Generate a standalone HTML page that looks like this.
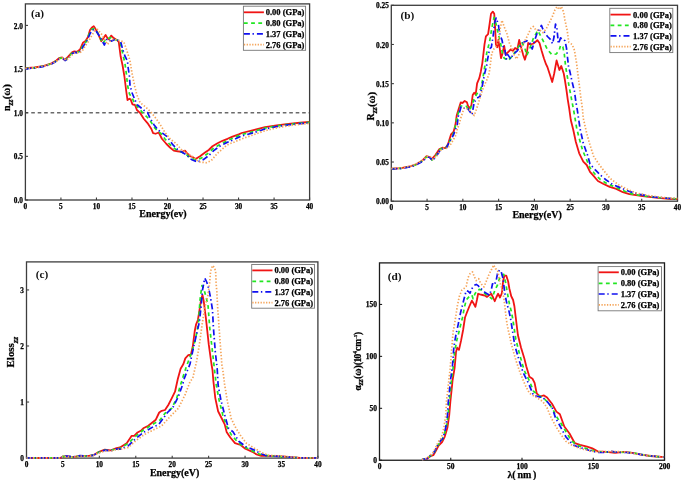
<!DOCTYPE html>
<html><head><meta charset="utf-8"><style>
html,body{margin:0;padding:0;background:#fff;}
body{width:685px;height:480px;overflow:hidden;font-family:"Liberation Serif",serif;}
svg{display:block;will-change:transform;}
</style></head><body>
<svg width="685" height="480" viewBox="0 0 685 480">
<rect width="685" height="480" fill="#fff"/>
<line x1="25.40" y1="112.70" x2="309.60" y2="112.70" stroke="#6a6a6a" stroke-width="1.35" stroke-dasharray="3.6 2.85" stroke-dashoffset="0.6"/>
<rect x="25.40" y="3.90" width="284.20" height="196.10" fill="none" stroke="#3c3c3c" stroke-width="1.3"/>
<line x1="25.40" y1="200.00" x2="25.40" y2="197.60" stroke="#3c3c3c" stroke-width="1.1"/>
<text x="25.40" y="209.20" font-size="7.3" text-anchor="middle" font-family="Liberation Serif" font-weight="bold" fill="#000" stroke="#000" stroke-width="0.25">0</text>
<line x1="60.93" y1="200.00" x2="60.93" y2="197.60" stroke="#3c3c3c" stroke-width="1.1"/>
<text x="60.93" y="209.20" font-size="7.3" text-anchor="middle" font-family="Liberation Serif" font-weight="bold" fill="#000" stroke="#000" stroke-width="0.25">5</text>
<line x1="96.45" y1="200.00" x2="96.45" y2="197.60" stroke="#3c3c3c" stroke-width="1.1"/>
<text x="96.45" y="209.20" font-size="7.3" text-anchor="middle" font-family="Liberation Serif" font-weight="bold" fill="#000" stroke="#000" stroke-width="0.25">10</text>
<line x1="131.98" y1="200.00" x2="131.98" y2="197.60" stroke="#3c3c3c" stroke-width="1.1"/>
<text x="131.98" y="209.20" font-size="7.3" text-anchor="middle" font-family="Liberation Serif" font-weight="bold" fill="#000" stroke="#000" stroke-width="0.25">15</text>
<line x1="167.50" y1="200.00" x2="167.50" y2="197.60" stroke="#3c3c3c" stroke-width="1.1"/>
<text x="167.50" y="209.20" font-size="7.3" text-anchor="middle" font-family="Liberation Serif" font-weight="bold" fill="#000" stroke="#000" stroke-width="0.25">20</text>
<line x1="203.03" y1="200.00" x2="203.03" y2="197.60" stroke="#3c3c3c" stroke-width="1.1"/>
<text x="203.03" y="209.20" font-size="7.3" text-anchor="middle" font-family="Liberation Serif" font-weight="bold" fill="#000" stroke="#000" stroke-width="0.25">25</text>
<line x1="238.55" y1="200.00" x2="238.55" y2="197.60" stroke="#3c3c3c" stroke-width="1.1"/>
<text x="238.55" y="209.20" font-size="7.3" text-anchor="middle" font-family="Liberation Serif" font-weight="bold" fill="#000" stroke="#000" stroke-width="0.25">30</text>
<line x1="274.08" y1="200.00" x2="274.08" y2="197.60" stroke="#3c3c3c" stroke-width="1.1"/>
<text x="274.08" y="209.20" font-size="7.3" text-anchor="middle" font-family="Liberation Serif" font-weight="bold" fill="#000" stroke="#000" stroke-width="0.25">35</text>
<line x1="309.60" y1="200.00" x2="309.60" y2="197.60" stroke="#3c3c3c" stroke-width="1.1"/>
<text x="309.60" y="209.20" font-size="7.3" text-anchor="middle" font-family="Liberation Serif" font-weight="bold" fill="#000" stroke="#000" stroke-width="0.25">40</text>
<line x1="25.40" y1="200.00" x2="28.00" y2="200.00" stroke="#3c3c3c" stroke-width="1.1"/>
<text x="22.90" y="203.10" font-size="7.3" text-anchor="end" font-family="Liberation Serif" font-weight="bold" fill="#000" stroke="#000" stroke-width="0.25">0.0</text>
<line x1="25.40" y1="156.35" x2="28.00" y2="156.35" stroke="#3c3c3c" stroke-width="1.1"/>
<text x="22.90" y="159.45" font-size="7.3" text-anchor="end" font-family="Liberation Serif" font-weight="bold" fill="#000" stroke="#000" stroke-width="0.25">0.5</text>
<line x1="25.40" y1="112.70" x2="28.00" y2="112.70" stroke="#3c3c3c" stroke-width="1.1"/>
<text x="22.90" y="115.80" font-size="7.3" text-anchor="end" font-family="Liberation Serif" font-weight="bold" fill="#000" stroke="#000" stroke-width="0.25">1.0</text>
<line x1="25.40" y1="69.05" x2="28.00" y2="69.05" stroke="#3c3c3c" stroke-width="1.1"/>
<text x="22.90" y="72.15" font-size="7.3" text-anchor="end" font-family="Liberation Serif" font-weight="bold" fill="#000" stroke="#000" stroke-width="0.25">1.5</text>
<line x1="25.40" y1="25.40" x2="28.00" y2="25.40" stroke="#3c3c3c" stroke-width="1.1"/>
<text x="22.90" y="28.50" font-size="7.3" text-anchor="end" font-family="Liberation Serif" font-weight="bold" fill="#000" stroke="#000" stroke-width="0.25">2.0</text>
<g fill="none" stroke-linejoin="round">
<polyline points="25.40,68.20 34.50,67.50 44.00,65.80 51.60,63.30 56.30,60.50 59.60,57.80 62.30,57.50 64.60,60.00 67.70,57.20 72.00,52.30 74.30,51.40 77.20,51.80 80.00,49.50 82.90,42.80 85.50,41.00 88.00,37.00 90.00,30.00 91.90,27.50 93.75,26.25 95.00,28.10 97.50,32.50 101.25,41.25 103.10,38.75 105.60,35.00 107.50,38.10 108.75,39.40 111.25,35.60 113.75,38.10 117.50,40.60 118.75,41.90 120.60,56.25 122.50,65.00 124.40,76.25 126.25,91.25 127.50,100.00 129.40,98.75 130.60,99.40 132.50,104.40 135.00,105.00 136.90,110.00 140.00,112.80 143.75,118.75 147.50,123.10 151.25,128.75 153.10,133.10 155.60,133.75 158.75,132.50 161.90,138.75 166.25,143.75 170.00,147.50 173.75,150.60 177.50,151.25 181.90,151.90 185.00,150.60 187.50,153.75 190.00,156.25 192.50,156.90 195.60,159.00 200.00,156.20 205.00,152.60 208.75,150.00 212.50,146.25 217.50,143.30 222.50,140.80 227.50,138.80 232.50,136.60 238.75,134.40 241.70,133.00 253.40,130.10 265.00,127.20 276.70,125.40 288.40,123.90 300.00,122.75 309.40,121.90" stroke="#f01414" stroke-width="1.8"/>
<polyline points="25.40,68.50 34.50,67.80 44.00,66.00 51.60,63.70 56.30,61.00 60.00,58.00 62.80,58.30 64.80,60.80 67.70,58.00 72.00,53.00 74.50,52.00 77.50,52.50 80.50,50.50 83.50,44.00 86.00,42.00 89.50,33.00 92.00,29.00 94.50,28.50 98.00,33.50 103.00,43.50 106.00,38.50 108.00,38.50 110.50,37.50 113.50,39.00 118.00,40.50 120.00,41.50 121.50,48.00 123.50,57.00 125.00,63.75 126.50,75.00 127.50,85.00 129.40,93.75 132.00,98.00 135.00,103.75 138.50,108.00 142.50,112.50 147.50,117.50 151.00,122.00 154.00,127.00 157.50,131.00 161.00,133.50 165.00,139.00 169.00,143.50 173.00,147.50 177.50,150.50 182.50,152.50 187.00,155.00 190.00,157.50 196.25,160.00 201.25,158.10 207.50,153.75 213.75,148.10 220.00,144.40 227.50,140.60 238.75,135.60 241.70,134.50 253.40,131.50 265.00,128.00 276.70,126.00 288.40,124.40 300.00,123.20 309.40,122.30" stroke="#22e622" stroke-width="1.7" stroke-dasharray="3.8 3.4"/>
<polyline points="25.40,68.80 34.50,68.00 44.00,66.30 51.60,64.00 56.30,61.30 60.50,58.30 63.00,58.50 65.00,60.50 68.00,58.50 72.50,53.50 75.00,52.30 78.00,53.00 81.00,51.00 84.00,45.00 86.00,43.00 90.00,33.75 92.50,30.00 95.00,29.40 98.75,35.00 104.40,45.00 106.90,38.75 111.25,41.25 115.00,39.40 120.60,41.25 122.50,48.75 125.00,56.25 127.50,61.25 128.10,67.50 129.40,76.25 130.00,85.00 131.90,92.50 135.00,100.00 137.50,105.00 141.25,108.00 145.00,111.25 147.50,112.50 150.00,118.10 153.75,124.40 158.10,130.00 162.50,133.10 167.50,136.90 172.50,144.40 177.50,149.40 182.50,152.50 187.50,155.60 190.00,158.75 192.50,160.00 197.50,161.90 203.75,159.40 208.75,155.60 213.75,150.60 218.75,146.90 225.00,143.40 231.25,140.70 238.75,137.30 241.70,136.00 253.40,132.80 265.00,129.00 276.70,126.60 288.40,124.90 300.00,123.70 309.40,122.75" stroke="#1010f0" stroke-width="1.7" stroke-dasharray="6 2.6 1.4 3"/>
<polyline points="25.40,68.50 34.50,67.80 44.00,66.00 51.60,63.70 57.00,61.00 61.00,58.30 63.50,58.00 66.00,60.50 69.00,58.00 73.50,53.50 76.00,52.50 79.00,53.00 82.00,51.50 85.00,46.25 88.00,42.00 91.50,36.00 94.50,31.00 97.50,29.40 101.25,33.75 104.50,39.00 107.50,44.40 111.90,39.40 117.50,40.00 123.75,41.90 126.25,48.75 129.40,58.75 130.00,61.25 131.90,72.50 134.40,85.00 136.90,95.00 140.00,102.50 146.25,107.50 151.25,112.50 156.25,118.75 161.25,126.25 165.00,132.50 170.00,138.75 176.25,143.75 181.25,149.40 186.25,152.50 190.00,155.00 195.00,158.75 198.75,161.90 206.25,162.75 211.25,160.60 216.25,154.70 218.50,152.30 221.25,150.10 223.50,148.00 226.00,145.80 228.75,144.10 233.75,142.30 238.75,140.00 241.70,138.90 253.40,134.80 265.00,130.70 276.70,127.80 288.40,125.80 300.00,124.30 309.40,123.45" stroke="#f5a55a" stroke-width="1.7" stroke-dasharray="1.4 1.8"/>
</g>
<rect x="243.40" y="6.20" width="62.20" height="44.10" fill="#fff" stroke="#777" stroke-width="0.9"/>
<line x1="243.90" y1="12.30" x2="263.90" y2="12.30" stroke="#f01414" stroke-width="1.8"/>
<text x="265.70" y="15.30" font-size="8.5" font-family="Liberation Serif" font-weight="bold" fill="#000" stroke="#000" stroke-width="0.25">0.00 (GPa)</text>
<line x1="243.90" y1="23.20" x2="263.90" y2="23.20" stroke="#22e622" stroke-width="1.7" stroke-dasharray="3.8 3.4"/>
<text x="265.70" y="26.20" font-size="8.5" font-family="Liberation Serif" font-weight="bold" fill="#000" stroke="#000" stroke-width="0.25">0.80 (GPa)</text>
<line x1="243.90" y1="33.90" x2="263.90" y2="33.90" stroke="#1010f0" stroke-width="1.7" stroke-dasharray="6 2.6 1.4 3"/>
<text x="265.70" y="36.90" font-size="8.5" font-family="Liberation Serif" font-weight="bold" fill="#000" stroke="#000" stroke-width="0.25">1.37 (GPa)</text>
<line x1="243.90" y1="44.60" x2="263.90" y2="44.60" stroke="#f5a55a" stroke-width="1.6" stroke-dasharray="1.3 1.45"/>
<text x="265.70" y="47.60" font-size="8.5" font-family="Liberation Serif" font-weight="bold" fill="#000" stroke="#000" stroke-width="0.25">2.76 (GPa)</text>
<text x="30.9" y="17.3" font-size="11.3" font-family="Liberation Serif" font-weight="bold" fill="#111">(a)</text>
<text x="139.3" y="217.2" font-size="10" font-family="Liberation Serif" font-weight="bold" fill="#000" stroke="#000" stroke-width="0.25">Energy(ev)</text>
<text transform="translate(10.1,111) rotate(-90)" font-size="10" font-family="Liberation Serif" font-weight="bold" fill="#000" stroke="#000" stroke-width="0.25">n<tspan font-size="7.8" font-style="italic" dy="3">zz</tspan><tspan dy="-2.8" font-size="11">(&#969;)</tspan></text>
<rect x="391.30" y="5.30" width="286.20" height="195.90" fill="none" stroke="#3c3c3c" stroke-width="1.3"/>
<line x1="391.30" y1="201.20" x2="391.30" y2="198.80" stroke="#3c3c3c" stroke-width="1.1"/>
<text x="391.30" y="210.40" font-size="7.3" text-anchor="middle" font-family="Liberation Serif" font-weight="bold" fill="#000" stroke="#000" stroke-width="0.25">0</text>
<line x1="427.07" y1="201.20" x2="427.07" y2="198.80" stroke="#3c3c3c" stroke-width="1.1"/>
<text x="427.07" y="210.40" font-size="7.3" text-anchor="middle" font-family="Liberation Serif" font-weight="bold" fill="#000" stroke="#000" stroke-width="0.25">5</text>
<line x1="462.85" y1="201.20" x2="462.85" y2="198.80" stroke="#3c3c3c" stroke-width="1.1"/>
<text x="462.85" y="210.40" font-size="7.3" text-anchor="middle" font-family="Liberation Serif" font-weight="bold" fill="#000" stroke="#000" stroke-width="0.25">10</text>
<line x1="498.62" y1="201.20" x2="498.62" y2="198.80" stroke="#3c3c3c" stroke-width="1.1"/>
<text x="498.62" y="210.40" font-size="7.3" text-anchor="middle" font-family="Liberation Serif" font-weight="bold" fill="#000" stroke="#000" stroke-width="0.25">15</text>
<line x1="534.40" y1="201.20" x2="534.40" y2="198.80" stroke="#3c3c3c" stroke-width="1.1"/>
<text x="534.40" y="210.40" font-size="7.3" text-anchor="middle" font-family="Liberation Serif" font-weight="bold" fill="#000" stroke="#000" stroke-width="0.25">20</text>
<line x1="570.17" y1="201.20" x2="570.17" y2="198.80" stroke="#3c3c3c" stroke-width="1.1"/>
<text x="570.17" y="210.40" font-size="7.3" text-anchor="middle" font-family="Liberation Serif" font-weight="bold" fill="#000" stroke="#000" stroke-width="0.25">25</text>
<line x1="605.95" y1="201.20" x2="605.95" y2="198.80" stroke="#3c3c3c" stroke-width="1.1"/>
<text x="605.95" y="210.40" font-size="7.3" text-anchor="middle" font-family="Liberation Serif" font-weight="bold" fill="#000" stroke="#000" stroke-width="0.25">30</text>
<line x1="641.73" y1="201.20" x2="641.73" y2="198.80" stroke="#3c3c3c" stroke-width="1.1"/>
<text x="641.73" y="210.40" font-size="7.3" text-anchor="middle" font-family="Liberation Serif" font-weight="bold" fill="#000" stroke="#000" stroke-width="0.25">35</text>
<line x1="677.50" y1="201.20" x2="677.50" y2="198.80" stroke="#3c3c3c" stroke-width="1.1"/>
<text x="677.50" y="210.40" font-size="7.3" text-anchor="middle" font-family="Liberation Serif" font-weight="bold" fill="#000" stroke="#000" stroke-width="0.25">40</text>
<line x1="391.30" y1="201.20" x2="393.90" y2="201.20" stroke="#3c3c3c" stroke-width="1.1"/>
<text x="388.80" y="204.30" font-size="7.3" text-anchor="end" font-family="Liberation Serif" font-weight="bold" fill="#000" stroke="#000" stroke-width="0.25">0.00</text>
<line x1="391.30" y1="162.02" x2="393.90" y2="162.02" stroke="#3c3c3c" stroke-width="1.1"/>
<text x="388.80" y="165.12" font-size="7.3" text-anchor="end" font-family="Liberation Serif" font-weight="bold" fill="#000" stroke="#000" stroke-width="0.25">0.05</text>
<line x1="391.30" y1="122.84" x2="393.90" y2="122.84" stroke="#3c3c3c" stroke-width="1.1"/>
<text x="388.80" y="125.94" font-size="7.3" text-anchor="end" font-family="Liberation Serif" font-weight="bold" fill="#000" stroke="#000" stroke-width="0.25">0.10</text>
<line x1="391.30" y1="83.66" x2="393.90" y2="83.66" stroke="#3c3c3c" stroke-width="1.1"/>
<text x="388.80" y="86.76" font-size="7.3" text-anchor="end" font-family="Liberation Serif" font-weight="bold" fill="#000" stroke="#000" stroke-width="0.25">0.15</text>
<line x1="391.30" y1="44.48" x2="393.90" y2="44.48" stroke="#3c3c3c" stroke-width="1.1"/>
<text x="388.80" y="47.58" font-size="7.3" text-anchor="end" font-family="Liberation Serif" font-weight="bold" fill="#000" stroke="#000" stroke-width="0.25">0.20</text>
<line x1="391.30" y1="5.30" x2="393.90" y2="5.30" stroke="#3c3c3c" stroke-width="1.1"/>
<text x="388.80" y="8.40" font-size="7.3" text-anchor="end" font-family="Liberation Serif" font-weight="bold" fill="#000" stroke="#000" stroke-width="0.25">0.25</text>
<g fill="none" stroke-linejoin="round">
<polyline points="391.30,168.75 401.00,168.10 409.75,166.50 416.00,164.40 422.25,160.60 426.60,156.25 429.10,156.90 431.60,159.40 435.40,155.00 439.10,149.40 442.25,147.75 445.40,148.10 447.90,144.40 451.00,134.40 453.50,131.90 455.40,125.00 456.70,115.50 458.90,108.20 460.80,102.30 462.50,103.00 464.70,100.90 466.90,102.30 468.80,108.20 471.30,106.00 472.70,95.00 474.20,92.80 475.70,94.30 477.10,83.40 479.30,78.20 480.80,71.70 482.30,63.30 484.50,44.40 485.90,36.40 488.10,34.20 489.60,24.00 491.00,13.75 492.80,11.60 494.25,13.75 495.10,26.90 495.90,44.40 497.20,47.30 498.30,40.00 499.80,48.75 501.00,58.20 502.40,53.90 504.20,45.80 505.60,54.60 507.80,52.40 510.70,49.50 512.90,50.90 515.10,48.00 517.30,49.50 519.20,40.00 520.90,46.60 523.10,54.60 524.90,59.70 526.80,53.10 528.20,42.90 530.40,44.40 532.90,43.75 535.10,42.30 537.30,40.10 539.50,43.00 541.70,51.00 543.90,58.30 546.00,64.20 547.40,67.00 550.00,75.00 552.20,82.00 554.20,73.50 556.60,60.40 559.40,70.00 561.30,66.00 563.75,73.50 564.90,80.00 566.40,89.60 567.80,99.80 569.20,108.30 570.80,120.00 573.30,130.00 575.80,141.70 579.20,153.30 583.30,161.70 586.70,165.00 590.00,171.80 594.00,176.40 597.90,181.00 603.10,183.70 609.70,186.90 616.30,188.90 622.90,192.20 629.40,194.20 642.60,196.10 655.70,197.70 668.80,198.80 677.40,199.20" stroke="#f01414" stroke-width="1.8"/>
<polyline points="391.30,168.90 401.00,168.30 409.75,166.80 416.00,164.70 422.25,161.00 427.00,156.50 429.50,157.20 432.00,160.00 436.00,155.50 439.50,150.00 442.50,148.00 445.70,148.40 449.00,142.50 452.50,136.00 455.00,128.00 456.50,120.00 458.00,114.00 460.50,106.00 463.00,106.00 466.00,106.00 469.80,110.40 472.50,103.00 474.90,97.20 478.00,92.00 480.80,89.20 483.00,77.50 485.10,64.40 486.70,53.10 489.60,41.50 491.80,28.30 494.00,17.40 496.10,24.00 498.30,34.20 500.50,42.90 502.70,54.60 504.20,58.20 508.50,60.40 512.90,55.30 517.30,48.75 521.70,42.20 524.60,47.30 526.80,55.30 529.70,48.75 533.30,38.50 537.00,32.00 538.00,30.60 540.90,36.50 543.90,42.30 547.50,49.60 551.90,54.70 556.25,54.00 559.20,50.30 560.60,45.20 562.80,46.70 564.30,54.00 565.60,66.25 567.80,79.40 570.00,91.00 572.20,102.70 574.20,113.30 576.70,128.30 579.20,138.30 582.50,150.00 586.70,160.00 590.00,167.90 595.30,174.50 600.50,179.70 607.10,183.70 616.30,187.60 625.50,191.50 633.40,194.40 649.10,196.50 663.60,198.10 677.40,198.90" stroke="#22e622" stroke-width="1.7" stroke-dasharray="3.8 3.4"/>
<polyline points="391.30,169.00 401.00,168.50 409.75,167.00 416.00,165.00 422.25,161.50 427.50,157.00 430.00,157.50 432.50,160.50 436.50,156.00 440.00,150.50 443.00,148.50 446.00,148.75 449.75,141.25 453.50,135.00 455.20,130.00 457.25,125.00 458.10,116.90 461.10,106.70 464.00,108.20 466.90,107.40 470.50,112.60 472.00,114.70 474.20,102.30 477.10,98.00 480.00,96.50 482.20,86.30 484.40,74.60 486.60,65.80 487.40,60.40 489.60,48.75 491.30,47.30 493.20,35.60 494.70,22.50 496.10,18.10 498.30,24.00 499.80,34.20 502.00,40.00 503.40,47.30 504.90,50.20 506.40,59.00 507.80,54.60 510.70,59.00 512.90,54.60 517.30,50.90 520.90,45.10 523.90,42.20 526.80,40.70 529.70,42.90 532.20,49.00 534.80,40.00 537.00,33.40 539.20,29.80 541.40,25.40 542.80,29.00 545.00,33.40 547.50,36.50 550.40,39.40 552.60,43.75 554.10,36.50 555.50,24.10 557.00,29.20 558.40,43.75 560.60,37.90 562.80,39.40 565.00,40.80 566.50,48.10 567.60,58.30 568.60,67.00 570.00,72.10 572.20,82.30 574.40,91.00 575.80,101.25 577.30,110.00 580.00,128.30 583.30,143.30 587.50,155.00 590.00,163.90 595.30,169.90 600.50,175.10 605.80,179.70 612.30,184.30 620.20,187.60 629.40,191.50 640.00,194.40 653.10,196.80 666.20,198.10 677.40,198.90" stroke="#1010f0" stroke-width="1.7" stroke-dasharray="6 2.6 1.4 3"/>
<polyline points="391.30,168.60 401.00,168.00 409.75,166.30 416.00,164.20 422.25,160.50 428.00,156.00 430.50,156.80 433.00,159.50 437.00,155.50 441.00,150.00 444.00,148.00 447.50,148.50 451.00,143.75 456.00,135.00 457.40,128.60 459.00,125.00 461.10,116.90 464.00,108.20 468.40,108.90 474.20,115.50 477.80,105.30 480.80,95.00 483.00,88.50 486.60,80.40 489.20,73.30 491.80,53.10 494.00,48.75 496.90,45.80 499.10,35.60 500.50,26.90 502.00,20.30 504.20,26.90 507.10,34.20 509.30,42.90 511.50,47.30 514.40,55.30 516.60,59.00 518.75,54.60 521.70,47.30 525.30,40.00 528.20,34.20 531.10,28.00 533.40,26.50 536.25,30.50 539.20,29.80 541.70,31.40 543.00,32.70 546.00,29.20 549.00,23.30 552.60,16.00 554.80,10.20 557.00,6.60 559.20,9.50 561.40,6.60 563.50,11.70 565.00,20.40 567.20,30.60 568.80,42.20 572.20,44.60 574.40,50.20 576.60,63.30 578.00,75.00 579.50,86.70 580.90,98.30 582.40,108.50 583.30,118.30 586.70,133.30 590.00,145.00 593.50,156.00 598.30,163.30 603.30,170.00 610.00,178.30 618.90,185.00 628.10,189.60 636.00,192.90 649.10,195.70 663.60,197.50 677.40,198.40" stroke="#f5a55a" stroke-width="1.7" stroke-dasharray="1.4 1.8"/>
</g>
<rect x="609.80" y="8.30" width="63.00" height="44.30" fill="#fff" stroke="#777" stroke-width="0.9"/>
<line x1="610.50" y1="14.60" x2="630.70" y2="14.60" stroke="#f01414" stroke-width="1.8"/>
<text x="633.10" y="17.60" font-size="8.5" font-family="Liberation Serif" font-weight="bold" fill="#000" stroke="#000" stroke-width="0.25">0.00 (GPa)</text>
<line x1="610.50" y1="25.30" x2="630.70" y2="25.30" stroke="#22e622" stroke-width="1.7" stroke-dasharray="3.8 3.4"/>
<text x="633.10" y="28.30" font-size="8.5" font-family="Liberation Serif" font-weight="bold" fill="#000" stroke="#000" stroke-width="0.25">0.80 (GPa)</text>
<line x1="610.50" y1="35.80" x2="630.70" y2="35.80" stroke="#1010f0" stroke-width="1.7" stroke-dasharray="6 2.6 1.4 3"/>
<text x="633.10" y="38.80" font-size="8.5" font-family="Liberation Serif" font-weight="bold" fill="#000" stroke="#000" stroke-width="0.25">1.37 (GPa)</text>
<line x1="610.50" y1="46.60" x2="630.70" y2="46.60" stroke="#f5a55a" stroke-width="1.6" stroke-dasharray="1.3 1.45"/>
<text x="633.10" y="49.60" font-size="8.5" font-family="Liberation Serif" font-weight="bold" fill="#000" stroke="#000" stroke-width="0.25">2.76 (GPa)</text>
<text x="400.4" y="19.4" font-size="11.3" font-family="Liberation Serif" font-weight="bold" fill="#111">(b)</text>
<text x="512.4" y="217.6" font-size="10" font-family="Liberation Serif" font-weight="bold" fill="#000" stroke="#000" stroke-width="0.25">Energy(eV)</text>
<text transform="translate(374.3,120.4) rotate(-90)" font-size="10" font-family="Liberation Serif" font-weight="bold" fill="#000" stroke="#000" stroke-width="0.25">R<tspan font-size="7.8" font-style="italic" dy="3">zz</tspan><tspan dy="-2.2" font-size="11">(&#969;)</tspan></text>
<rect x="26.50" y="261.90" width="291.40" height="196.20" fill="none" stroke="#3e3e3e" stroke-width="1.3"/>
<line x1="26.50" y1="458.10" x2="26.50" y2="455.70" stroke="#3e3e3e" stroke-width="1.1"/>
<text x="26.50" y="467.30" font-size="7.3" text-anchor="middle" font-family="Liberation Serif" font-weight="bold" fill="#000" stroke="#000" stroke-width="0.25">0</text>
<line x1="62.92" y1="458.10" x2="62.92" y2="455.70" stroke="#3e3e3e" stroke-width="1.1"/>
<text x="62.92" y="467.30" font-size="7.3" text-anchor="middle" font-family="Liberation Serif" font-weight="bold" fill="#000" stroke="#000" stroke-width="0.25">5</text>
<line x1="99.35" y1="458.10" x2="99.35" y2="455.70" stroke="#3e3e3e" stroke-width="1.1"/>
<text x="99.35" y="467.30" font-size="7.3" text-anchor="middle" font-family="Liberation Serif" font-weight="bold" fill="#000" stroke="#000" stroke-width="0.25">10</text>
<line x1="135.78" y1="458.10" x2="135.78" y2="455.70" stroke="#3e3e3e" stroke-width="1.1"/>
<text x="135.78" y="467.30" font-size="7.3" text-anchor="middle" font-family="Liberation Serif" font-weight="bold" fill="#000" stroke="#000" stroke-width="0.25">15</text>
<line x1="172.20" y1="458.10" x2="172.20" y2="455.70" stroke="#3e3e3e" stroke-width="1.1"/>
<text x="172.20" y="467.30" font-size="7.3" text-anchor="middle" font-family="Liberation Serif" font-weight="bold" fill="#000" stroke="#000" stroke-width="0.25">20</text>
<line x1="208.62" y1="458.10" x2="208.62" y2="455.70" stroke="#3e3e3e" stroke-width="1.1"/>
<text x="208.62" y="467.30" font-size="7.3" text-anchor="middle" font-family="Liberation Serif" font-weight="bold" fill="#000" stroke="#000" stroke-width="0.25">25</text>
<line x1="245.05" y1="458.10" x2="245.05" y2="455.70" stroke="#3e3e3e" stroke-width="1.1"/>
<text x="245.05" y="467.30" font-size="7.3" text-anchor="middle" font-family="Liberation Serif" font-weight="bold" fill="#000" stroke="#000" stroke-width="0.25">30</text>
<line x1="281.48" y1="458.10" x2="281.48" y2="455.70" stroke="#3e3e3e" stroke-width="1.1"/>
<text x="281.48" y="467.30" font-size="7.3" text-anchor="middle" font-family="Liberation Serif" font-weight="bold" fill="#000" stroke="#000" stroke-width="0.25">35</text>
<line x1="317.90" y1="458.10" x2="317.90" y2="455.70" stroke="#3e3e3e" stroke-width="1.1"/>
<text x="317.90" y="467.30" font-size="7.3" text-anchor="middle" font-family="Liberation Serif" font-weight="bold" fill="#000" stroke="#000" stroke-width="0.25">40</text>
<line x1="26.50" y1="458.10" x2="29.10" y2="458.10" stroke="#3e3e3e" stroke-width="1.1"/>
<text x="24.00" y="461.20" font-size="7.3" text-anchor="end" font-family="Liberation Serif" font-weight="bold" fill="#000" stroke="#000" stroke-width="0.25">0</text>
<line x1="26.50" y1="402.04" x2="29.10" y2="402.04" stroke="#3e3e3e" stroke-width="1.1"/>
<text x="24.00" y="405.14" font-size="7.3" text-anchor="end" font-family="Liberation Serif" font-weight="bold" fill="#000" stroke="#000" stroke-width="0.25">1</text>
<line x1="26.50" y1="345.99" x2="29.10" y2="345.99" stroke="#3e3e3e" stroke-width="1.1"/>
<text x="24.00" y="349.09" font-size="7.3" text-anchor="end" font-family="Liberation Serif" font-weight="bold" fill="#000" stroke="#000" stroke-width="0.25">2</text>
<line x1="26.50" y1="289.93" x2="29.10" y2="289.93" stroke="#3e3e3e" stroke-width="1.1"/>
<text x="24.00" y="293.03" font-size="7.3" text-anchor="end" font-family="Liberation Serif" font-weight="bold" fill="#000" stroke="#000" stroke-width="0.25">3</text>
<g fill="none" stroke-linejoin="round">
<polyline points="26.50,458.00 61.00,457.80 62.50,456.60 66.90,456.20 72.70,457.20 80.00,455.80 87.30,456.20 93.20,455.20 99.00,451.80 104.80,449.60 110.70,450.40 116.50,448.20 120.00,447.50 126.70,443.30 131.70,435.80 134.20,435.80 137.50,432.50 140.80,430.80 143.30,428.30 148.30,425.80 153.30,421.70 155.80,419.70 159.20,412.50 161.70,410.80 165.00,410.00 168.30,405.00 171.70,398.30 175.00,391.70 177.80,379.00 180.60,368.75 183.40,364.00 185.30,358.40 188.10,355.25 190.90,354.70 192.80,346.25 194.70,331.25 196.00,324.70 197.90,320.00 199.40,310.60 201.25,298.75 202.50,295.00 203.75,301.25 205.00,311.25 205.90,318.10 208.75,344.40 211.60,365.00 212.50,370.00 213.40,381.25 215.30,398.10 218.10,411.25 221.90,418.75 224.70,424.40 226.60,431.90 230.30,437.50 235.00,443.10 240.60,445.00 245.30,448.75 251.90,451.60 256.60,454.40 261.25,455.90 270.60,455.90 285.00,456.60 300.00,457.90 317.90,458.00" stroke="#f01414" stroke-width="1.8"/>
<polyline points="26.50,458.00 61.00,457.80 62.50,456.60 66.90,456.20 72.70,457.20 80.00,455.80 87.30,456.20 93.20,455.20 99.00,452.00 104.80,450.00 110.70,450.60 116.50,448.60 120.00,448.30 128.30,443.30 135.00,436.70 143.30,430.00 151.70,425.00 160.00,420.00 165.00,413.30 171.70,408.30 176.70,398.30 180.00,386.70 183.30,376.00 186.25,366.90 191.90,351.90 195.60,338.75 198.40,323.75 200.00,300.00 201.90,285.60 203.75,288.75 206.25,297.50 208.10,306.25 209.70,327.50 212.50,351.90 214.40,368.75 216.25,385.00 219.10,400.00 222.80,415.00 226.60,426.25 231.25,434.70 236.90,441.25 242.50,445.90 250.00,449.70 257.50,453.40 263.10,455.30 280.00,456.60 300.00,457.90 317.90,458.00" stroke="#22e622" stroke-width="1.7" stroke-dasharray="3.8 3.4"/>
<polyline points="26.50,458.00 61.00,457.80 62.50,456.40 66.90,456.00 72.70,457.00 80.00,455.60 87.30,456.00 93.20,455.40 99.00,452.50 104.80,450.20 110.70,450.80 116.50,449.00 120.00,449.20 128.30,445.80 135.00,439.20 143.30,432.50 153.30,426.70 158.30,425.00 163.30,418.30 167.50,412.50 173.30,406.70 178.30,396.70 182.50,385.00 184.40,378.10 190.00,364.00 193.75,346.25 196.60,334.00 199.40,321.90 201.25,305.00 202.50,290.00 204.75,278.10 206.90,282.50 208.75,288.75 210.60,298.00 212.50,310.00 213.40,327.50 215.30,351.90 217.20,368.75 218.10,385.00 220.90,400.00 224.70,415.00 228.40,428.10 233.10,431.90 238.75,441.25 246.25,446.90 253.75,449.70 260.30,453.40 266.90,455.90 283.75,456.60 300.00,457.90 317.90,458.00" stroke="#1010f0" stroke-width="1.7" stroke-dasharray="6 2.6 1.4 3"/>
<polyline points="26.50,458.00 61.00,457.80 62.50,456.80 66.90,456.40 72.70,457.20 80.00,456.00 87.30,456.40 93.20,455.60 99.00,453.00 104.80,451.00 110.70,451.00 116.50,449.50 120.00,449.50 128.30,447.50 136.70,440.00 145.00,434.20 153.30,430.00 161.70,425.80 170.00,416.70 178.30,408.30 185.00,395.00 190.00,381.70 192.80,378.10 196.60,361.25 199.40,344.40 202.20,323.75 205.00,306.90 207.80,295.60 209.40,285.00 210.60,271.25 212.50,265.60 214.40,267.50 215.60,271.25 216.25,285.00 216.90,292.50 217.50,305.00 218.10,313.75 220.00,340.60 221.90,365.00 222.80,370.00 224.70,385.00 227.50,401.90 231.25,418.75 235.90,428.10 240.60,435.60 246.25,443.10 253.75,447.80 261.25,452.50 268.75,455.30 283.75,456.25 300.00,457.90 317.90,458.00" stroke="#f5a55a" stroke-width="1.7" stroke-dasharray="1.4 1.8"/>
</g>
<rect x="251.70" y="264.50" width="62.80" height="43.70" fill="#fff" stroke="#777" stroke-width="0.9"/>
<line x1="252.30" y1="270.40" x2="272.50" y2="270.40" stroke="#f01414" stroke-width="1.8"/>
<text x="274.40" y="273.40" font-size="8.5" font-family="Liberation Serif" font-weight="bold" fill="#000" stroke="#000" stroke-width="0.25">0.00 (GPa)</text>
<line x1="252.30" y1="281.30" x2="272.50" y2="281.30" stroke="#22e622" stroke-width="1.7" stroke-dasharray="3.8 3.4"/>
<text x="274.40" y="284.30" font-size="8.5" font-family="Liberation Serif" font-weight="bold" fill="#000" stroke="#000" stroke-width="0.25">0.80 (GPa)</text>
<line x1="252.30" y1="291.80" x2="272.50" y2="291.80" stroke="#1010f0" stroke-width="1.7" stroke-dasharray="6 2.6 1.4 3"/>
<text x="274.40" y="294.80" font-size="8.5" font-family="Liberation Serif" font-weight="bold" fill="#000" stroke="#000" stroke-width="0.25">1.37 (GPa)</text>
<line x1="252.30" y1="302.60" x2="272.50" y2="302.60" stroke="#f5a55a" stroke-width="1.6" stroke-dasharray="1.3 1.45"/>
<text x="274.40" y="305.60" font-size="8.5" font-family="Liberation Serif" font-weight="bold" fill="#000" stroke="#000" stroke-width="0.25">2.76 (GPa)</text>
<text x="35.8" y="278.1" font-size="11.3" font-family="Liberation Serif" font-weight="bold" fill="#111">(c)</text>
<text x="149.9" y="475.5" font-size="10" font-family="Liberation Serif" font-weight="bold" fill="#000" stroke="#000" stroke-width="0.25">Energy(eV)</text>
<text transform="translate(14.2,367.4) rotate(-90)" font-size="10.9" font-family="Liberation Serif" font-weight="bold" fill="#000" stroke="#000" stroke-width="0.25">Eloss<tspan font-size="8.3" font-style="italic" dy="4">zz</tspan></text>
<rect x="379.50" y="262.90" width="285.00" height="197.35" fill="none" stroke="#1c1c1c" stroke-width="1.3"/>
<line x1="379.50" y1="460.25" x2="379.50" y2="457.85" stroke="#1c1c1c" stroke-width="1.1"/>
<text x="379.50" y="468.85" font-size="7.5" text-anchor="middle" font-family="Liberation Serif" font-weight="bold" fill="#000" stroke="#000" stroke-width="0.25">0</text>
<line x1="450.75" y1="460.25" x2="450.75" y2="457.85" stroke="#1c1c1c" stroke-width="1.1"/>
<text x="450.75" y="468.85" font-size="7.5" text-anchor="middle" font-family="Liberation Serif" font-weight="bold" fill="#000" stroke="#000" stroke-width="0.25">50</text>
<line x1="522.00" y1="460.25" x2="522.00" y2="457.85" stroke="#1c1c1c" stroke-width="1.1"/>
<text x="522.00" y="468.85" font-size="7.5" text-anchor="middle" font-family="Liberation Serif" font-weight="bold" fill="#000" stroke="#000" stroke-width="0.25">100</text>
<line x1="593.25" y1="460.25" x2="593.25" y2="457.85" stroke="#1c1c1c" stroke-width="1.1"/>
<text x="593.25" y="468.85" font-size="7.5" text-anchor="middle" font-family="Liberation Serif" font-weight="bold" fill="#000" stroke="#000" stroke-width="0.25">150</text>
<line x1="664.50" y1="460.25" x2="664.50" y2="457.85" stroke="#1c1c1c" stroke-width="1.1"/>
<text x="664.50" y="468.85" font-size="7.5" text-anchor="middle" font-family="Liberation Serif" font-weight="bold" fill="#000" stroke="#000" stroke-width="0.25">200</text>
<line x1="379.50" y1="460.25" x2="382.10" y2="460.25" stroke="#1c1c1c" stroke-width="1.1"/>
<text x="377.00" y="462.75" font-size="7.5" text-anchor="end" font-family="Liberation Serif" font-weight="bold" fill="#000" stroke="#000" stroke-width="0.25">0</text>
<line x1="379.50" y1="408.32" x2="382.10" y2="408.32" stroke="#1c1c1c" stroke-width="1.1"/>
<text x="377.00" y="410.82" font-size="7.5" text-anchor="end" font-family="Liberation Serif" font-weight="bold" fill="#000" stroke="#000" stroke-width="0.25">50</text>
<line x1="379.50" y1="356.38" x2="382.10" y2="356.38" stroke="#1c1c1c" stroke-width="1.1"/>
<text x="377.00" y="358.88" font-size="7.5" text-anchor="end" font-family="Liberation Serif" font-weight="bold" fill="#000" stroke="#000" stroke-width="0.25">100</text>
<line x1="379.50" y1="304.45" x2="382.10" y2="304.45" stroke="#1c1c1c" stroke-width="1.1"/>
<text x="377.00" y="306.95" font-size="7.5" text-anchor="end" font-family="Liberation Serif" font-weight="bold" fill="#000" stroke="#000" stroke-width="0.25">150</text>
<g fill="none" stroke-linejoin="round">
<polyline points="422.00,459.60 427.10,458.80 430.60,456.10 433.30,455.20 435.90,450.80 438.60,445.50 442.10,442.00 444.80,436.60 447.40,427.80 449.20,415.40 450.40,401.20 451.90,387.10 452.60,380.00 454.60,368.10 456.00,352.10 457.20,347.70 459.00,349.90 461.10,340.40 463.10,330.00 465.00,317.50 466.90,312.50 469.40,306.25 471.90,300.60 473.75,303.75 475.40,306.90 476.90,300.00 478.10,293.75 480.00,294.40 482.50,295.00 485.00,295.60 486.90,296.90 488.75,295.60 491.25,293.75 493.10,297.50 494.75,301.25 496.25,297.50 498.10,293.75 500.00,297.50 501.90,293.10 503.10,281.25 504.40,275.60 506.25,275.60 508.10,281.25 509.40,288.75 511.25,296.25 513.10,300.00 514.40,306.25 515.60,316.25 517.90,335.00 521.00,347.50 524.20,357.90 526.25,366.25 529.40,376.70 532.50,378.75 534.60,382.90 536.70,393.30 539.80,396.50 544.00,395.40 547.10,397.50 552.00,403.80 556.40,411.60 559.90,414.30 564.30,426.50 569.50,433.50 574.80,443.20 580.00,444.90 587.00,446.70 592.30,448.40 597.60,451.40 606.30,451.90 615.10,452.80 623.80,451.90 632.60,452.80 641.40,454.60 650.10,456.00 664.10,457.20" stroke="#f01414" stroke-width="1.8"/>
<polyline points="422.00,459.60 427.00,458.60 430.50,455.80 433.20,454.50 435.50,450.00 438.00,445.00 441.50,441.00 444.00,435.00 446.50,426.00 448.20,414.00 449.30,401.00 450.50,390.00 451.50,380.00 453.10,368.10 454.60,352.10 456.80,340.40 459.00,331.70 460.60,325.00 462.50,317.50 464.40,307.50 466.25,300.00 469.40,296.25 471.90,295.00 473.10,298.75 475.00,293.75 477.50,290.00 480.00,289.40 482.50,290.60 486.25,295.00 489.00,296.50 491.90,298.75 495.00,290.00 497.50,285.00 499.40,278.75 501.25,275.00 503.75,274.40 505.60,282.50 507.50,293.75 509.40,303.75 511.25,311.25 512.75,318.75 515.80,339.20 520.00,355.80 524.20,370.40 529.40,380.80 533.50,391.25 538.75,395.40 544.00,398.50 549.20,403.75 553.30,410.00 555.50,415.10 560.80,423.00 566.00,431.80 571.30,440.50 576.50,444.90 583.50,447.60 590.50,449.70 597.60,451.90 615.10,451.90 632.60,452.80 650.10,456.00 664.10,457.20" stroke="#22e622" stroke-width="1.7" stroke-dasharray="3.8 3.4"/>
<polyline points="422.00,459.60 427.00,458.50 430.50,455.50 433.00,454.00 435.50,449.50 438.00,444.50 441.00,440.00 443.00,438.40 445.70,427.80 447.40,415.40 448.30,401.20 449.50,390.00 450.50,380.00 452.40,366.70 453.90,346.25 456.00,334.60 458.20,324.40 460.60,312.50 462.50,305.00 464.40,297.50 466.25,290.60 468.10,291.25 470.00,293.10 471.90,288.75 473.75,285.60 476.25,284.40 478.10,285.60 480.00,288.10 481.25,288.75 485.00,292.50 489.40,295.00 491.25,290.00 492.50,283.75 494.40,285.00 496.25,280.00 497.50,273.75 499.40,270.00 501.25,271.90 503.10,278.75 504.40,290.00 505.60,297.50 506.90,303.75 508.75,310.00 510.60,318.75 514.80,345.40 519.00,360.00 523.10,372.50 528.30,382.90 533.50,395.40 537.70,396.50 542.90,397.50 548.10,402.70 552.30,407.90 555.50,417.80 560.80,427.40 566.00,437.00 573.00,444.90 580.00,447.60 588.80,450.20 597.60,452.50 604.60,452.50 611.60,451.40 618.60,452.50 627.30,452.50 636.10,453.70 646.60,455.40 664.10,457.20" stroke="#1010f0" stroke-width="1.7" stroke-dasharray="6 2.6 1.4 3"/>
<polyline points="422.00,459.60 426.50,458.30 430.00,455.30 432.50,453.50 435.00,449.00 437.50,443.50 440.00,439.00 441.20,438.40 443.90,427.80 445.70,415.40 446.50,401.20 448.00,388.00 450.20,368.10 451.70,349.20 453.10,331.70 453.75,328.75 455.60,317.50 457.50,305.00 459.40,296.25 461.90,290.00 464.40,288.10 466.25,286.25 468.10,277.50 470.00,273.75 472.50,271.90 474.40,276.90 476.25,280.60 478.75,278.75 480.30,282.50 482.50,285.60 484.00,287.00 486.25,281.25 488.75,275.00 491.25,270.00 493.75,265.00 495.60,268.75 497.50,270.00 498.75,276.25 500.00,282.50 501.90,288.75 503.75,297.50 505.00,307.50 506.25,318.75 507.50,326.70 511.70,345.40 515.80,360.00 520.00,372.50 525.20,385.00 529.40,393.30 536.70,397.50 542.90,401.70 547.10,407.90 550.30,416.00 555.50,425.70 560.80,434.40 566.00,441.40 573.00,445.80 580.00,448.40 588.80,450.70 597.60,451.90 611.60,451.40 623.80,451.90 641.40,454.60 664.10,457.20" stroke="#f5a55a" stroke-width="1.7" stroke-dasharray="1.4 1.8"/>
</g>
<rect x="598.10" y="266.60" width="63.40" height="44.20" fill="#fff" stroke="#777" stroke-width="0.9"/>
<line x1="598.70" y1="272.30" x2="618.80" y2="272.30" stroke="#f01414" stroke-width="1.8"/>
<text x="620.70" y="275.30" font-size="8.5" font-family="Liberation Serif" font-weight="bold" fill="#000" stroke="#000" stroke-width="0.25">0.00 (GPa)</text>
<line x1="598.70" y1="283.30" x2="618.80" y2="283.30" stroke="#22e622" stroke-width="1.7" stroke-dasharray="3.8 3.4"/>
<text x="620.70" y="286.30" font-size="8.5" font-family="Liberation Serif" font-weight="bold" fill="#000" stroke="#000" stroke-width="0.25">0.80 (GPa)</text>
<line x1="598.70" y1="294.00" x2="618.80" y2="294.00" stroke="#1010f0" stroke-width="1.7" stroke-dasharray="6 2.6 1.4 3"/>
<text x="620.70" y="297.00" font-size="8.5" font-family="Liberation Serif" font-weight="bold" fill="#000" stroke="#000" stroke-width="0.25">1.37 (GPa)</text>
<line x1="598.70" y1="304.90" x2="618.80" y2="304.90" stroke="#f5a55a" stroke-width="1.6" stroke-dasharray="1.3 1.45"/>
<text x="620.70" y="307.90" font-size="8.5" font-family="Liberation Serif" font-weight="bold" fill="#000" stroke="#000" stroke-width="0.25">2.76 (GPa)</text>
<text x="387.8" y="279.8" font-size="11.3" font-family="Liberation Serif" font-weight="bold" fill="#111">(d)</text>
<text x="507.4" y="478.3" font-size="10" font-family="Liberation Serif" font-weight="bold" fill="#000" stroke="#000" stroke-width="0.25">&#955;(<tspan dx="1.8">nm</tspan><tspan dx="1.6">)</tspan></text>
<text transform="translate(360.6,390.5) rotate(-90)" font-size="9.5" font-family="Liberation Serif" font-weight="bold" fill="#000" stroke="#000" stroke-width="0.25">&#945;<tspan font-size="7.8" font-style="italic" dy="2.2">zz</tspan><tspan dy="-2.2" font-size="10">(&#969;)(</tspan><tspan dx="-0.8">1</tspan><tspan dx="-0.6">0</tspan><tspan font-size="5.5" dy="-3.5">4</tspan><tspan dy="3.5">cm</tspan><tspan font-size="5" dy="-3.5">-1</tspan><tspan dy="3.5" dx="-0.3">)</tspan></text>
</svg>
</body></html>
